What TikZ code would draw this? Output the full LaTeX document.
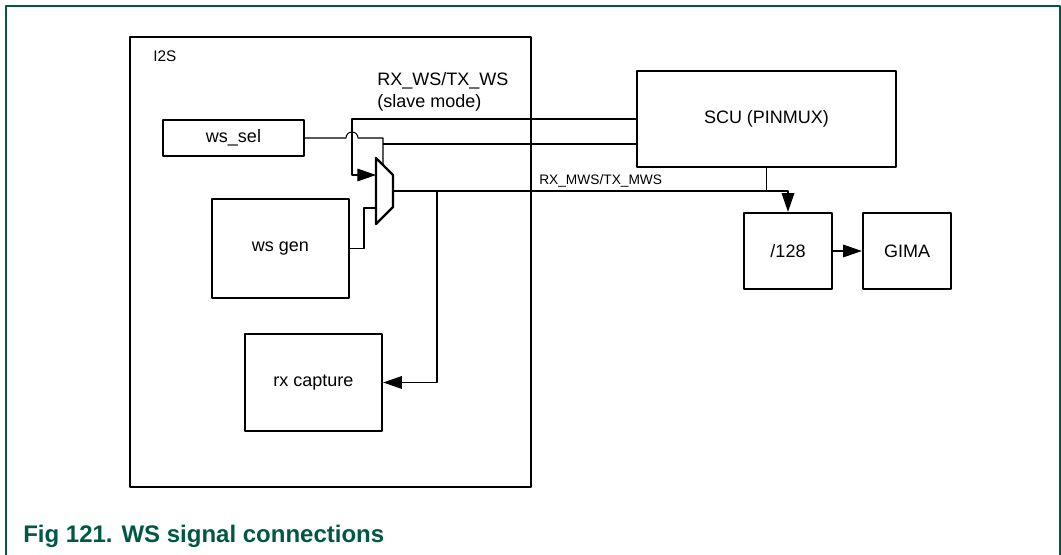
\documentclass[tikz,border=0pt]{standalone}
\usepackage{fontspec}
\setmainfont{Liberation Sans}
\usetikzlibrary{arrows.meta}
\definecolor{nxpgreen}{RGB}{0,88,68}
\begin{document}
\begin{tikzpicture}[x=0.75pt,y=-0.75pt,line join=round,>={Triangle[length=14pt,width=9.5pt]}]
\tikzset{blk/.style 2 args={draw,line width=1.8pt,minimum width=#1*0.75pt,minimum height=#2*0.75pt,inner sep=0pt,font=\fontsize{13.5}{16}\selectfont},
  wire/.style={line width=0.8pt},
  lbl/.style={inner sep=0pt,font=\fontsize{13.5}{16}\selectfont}}
\useasboundingbox (0,0) rectangle (1061,555);
% frame and caption
\draw[nxpgreen,line width=1.5pt] (6,555)--(6,6)--(1059.5,6)--(1059.5,555);
\node[anchor=base west,inner sep=0pt,text=nxpgreen,font=\bfseries\fontsize{18}{21}\selectfont] (title) at (23,543) {Fig 121. WS signal connections};
% blocks
\node[blk={401}{450}] (i2s) at (330.5,262) {};
\node[anchor=base west,inner sep=0pt,font=\fontsize{11.5}{14}\selectfont] (i2slbl) at (153,62) {I2S};
\node[blk={141}{36}] (wssel) at (233.5,138) {ws\_sel};
\node[blk={137}{99}] (wsgen) at (280.5,248.5) {ws gen};
\node[blk={137}{97}] (rxcap) at (313.5,382.5) {rx capture};
\node[blk={259}{96}] (scu) at (766.5,119) {SCU (PINMUX)};
\node[blk={88}{76}] (div) at (788,251) {/128};
\node[blk={88}{76}] (gima) at (907,251) {GIMA};
% mux
\draw[line width=1.8pt] (376,158)--(393,175)--(393,207)--(376,224)--cycle;
\coordinate (mux1) at (376,175);
\coordinate (mux0) at (376,208);
\coordinate (muxs) at (383,165);
\coordinate (muxo) at (393,191);
\coordinate (sel) at (383,144);
\coordinate (tap) at (437,191);
% labels
\node[lbl,anchor=north west,align=left] (slv) at (377,72) {RX\_WS/TX\_WS\\[1pt](slave mode)};
\node[anchor=base west,inner sep=0pt,font=\fontsize{10.3}{12}\selectfont] (mws) at (539,185) {RX\_MWS/TX\_MWS};
% wires
\draw[wire,->] (scu.west) -| (352,175) -- (mux1);
\draw[wire] (wssel.east) -- (346,138) arc[start angle=180,end angle=0,radius=4.5pt] -- (383,138) -- (muxs);
\draw[wire] (scu.west |- sel) -- (sel);
\draw[wire] (wsgen.east) -- (364,248.5) |- (mux0);
\draw[wire,->] (muxo) -| (div.north);
\draw[wire,->] (tap) |- (rxcap.east);
\draw[wire] (scu.south) -- (scu.south |- muxo);
\draw[wire,->] (div) -- (gima);
\end{tikzpicture}
\end{document}
